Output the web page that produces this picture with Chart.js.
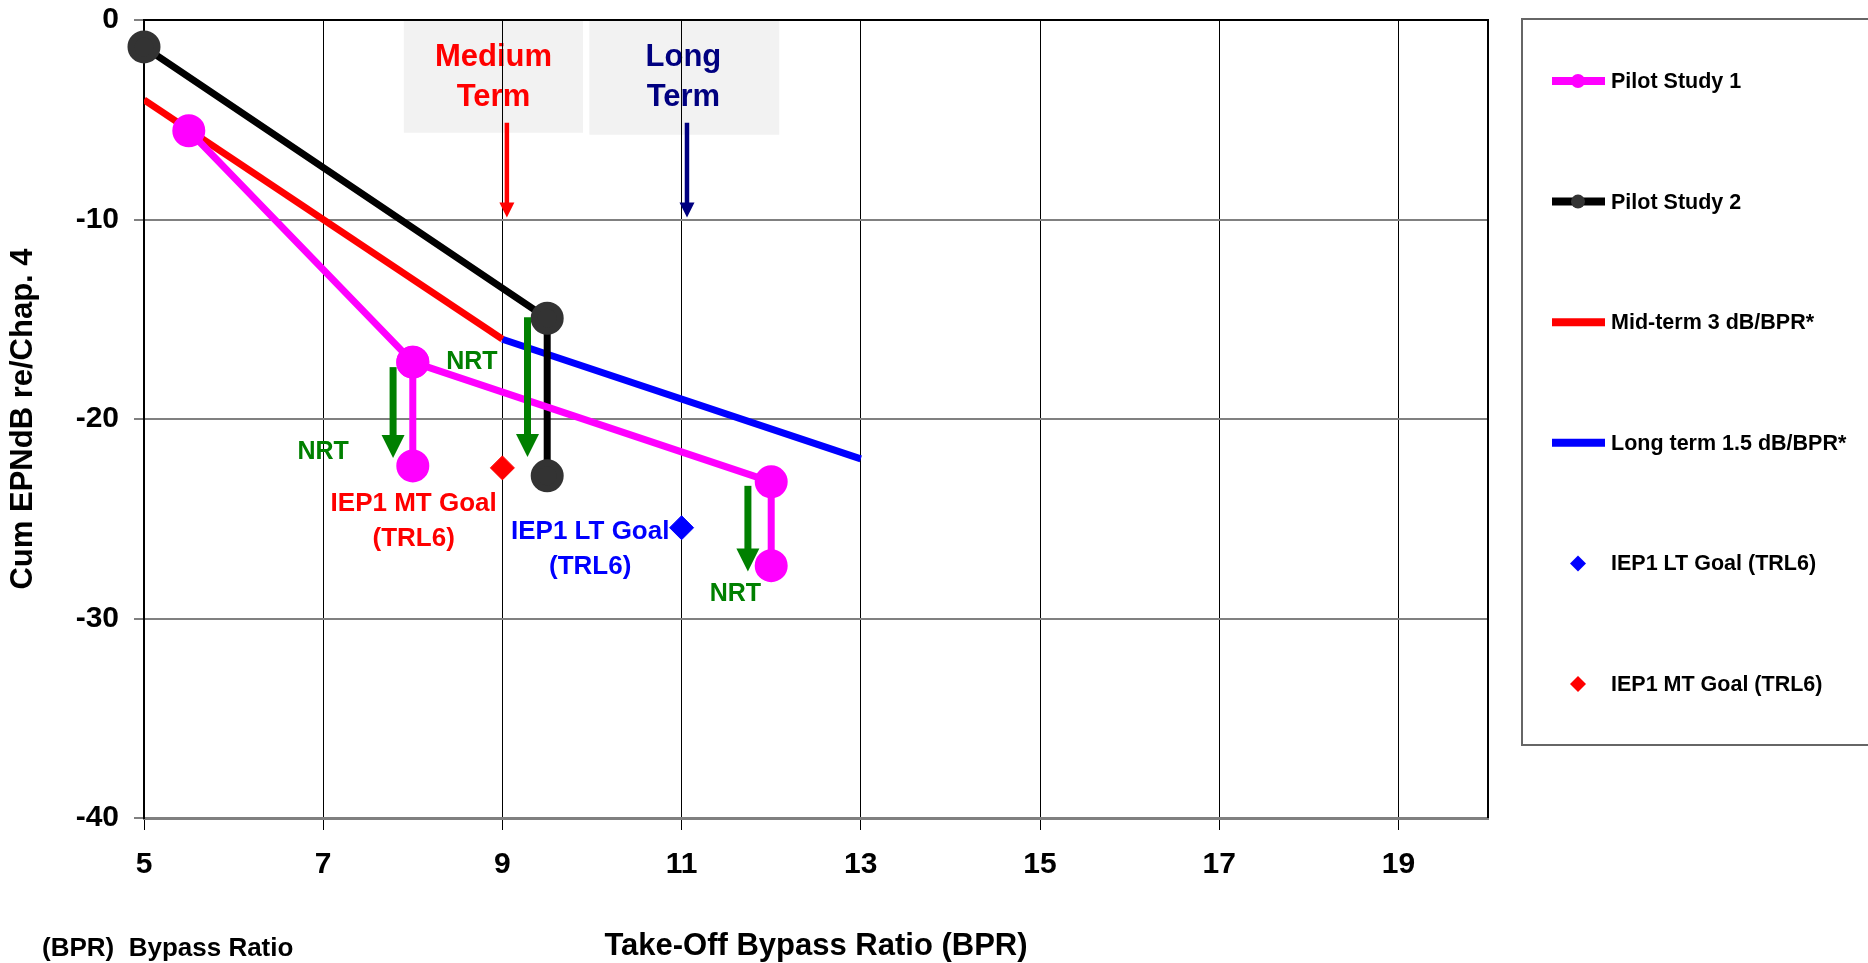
<!DOCTYPE html>
<html>
<head>
<meta charset="utf-8">
<script src="https://cdn.jsdelivr.net/npm/chart.js@4.4.0/dist/chart.umd.min.js"></script>
<style>
  html, body { margin:0; padding:0; background:#fff; }
  #wrap { position:relative; width:1868px; height:963px; }
</style>
</head>
<body>
<div id="wrap"><canvas id="mainChart"></canvas></div>
<script>
const FONT = "'Liberation Sans', Arial, sans-serif";

// series: x = take-off bypass ratio, y = cum EPNdB re Chap. 4 (null = gap in the line)
const pilot1X = [5.5, 8.0, 8.0, 8.0, 8.0, 12.0, 12.0];
const pilot1Y = [-5.55, -17.15, -22.35, null, -17.15, -23.15, -27.35];
const pilot2X = [5.0, 9.5, 9.5];
const pilot2Y = [-1.35, -14.95, -22.85];
const midTermX = [5, 9];
const midTermY = [-4, -16];
const longTermX = [9, 13];
const longTermY = [-16, -22];
const ltGoalX = [11.0];
const ltGoalY = [-25.45];
const mtGoalX = [9.0];
const mtGoalY = [-22.45];

const xTicks = [5, 7, 9, 11, 13, 15, 17, 19];

// callouts (data coordinates)
const termText = [['Medium', 'Term'], ['Long', 'Term']];
const termColor = ['#ff0000', '#000080'];
const termTextX = [8.90, 11.02];
const termTextY = [-1.88, -1.88];
const termBoxX0 = [7.90, 9.97];
const termBoxX1 = [9.90, 12.09];
const termBoxY0 = [-0.05, -0.05];
const termBoxY1 = [-5.65, -5.75];
const termArrowX = [9.05, 11.06];
const termArrowFrom = [-5.15, -5.15];
const termArrowTo = [-9.9, -9.9];

const nrtArrowX = [7.78, 9.28, 11.74];
const nrtArrowFrom = [-17.4, -14.9, -23.35];
const nrtArrowTo = [-21.95, -21.9, -27.65];
const nrtLabelX = [8.66, 7.0, 11.6];
const nrtLabelY = [-17.15, -21.65, -28.8];

const goalText = [['IEP1 MT Goal', '(TRL6)'], ['IEP1 LT Goal', '(TRL6)']];
const goalColor = ['#ff0000', '#0000ff'];
const goalX = [8.01, 9.98];
const goalY = [-24.25, -25.65];

const zip = (xs, ys) => xs.map((x, i) => ({x: x, y: ys[i]}));

function arrow(ctx, x, y0, y1, shaft, head, color) {
    ctx.save();
    ctx.strokeStyle = color; ctx.fillStyle = color; ctx.lineWidth = shaft;
    ctx.beginPath(); ctx.moveTo(x, y0); ctx.lineTo(x, y1 - head + 1); ctx.stroke();
    ctx.beginPath(); ctx.moveTo(x - head / 2, y1 - head); ctx.lineTo(x + head / 2, y1 - head); ctx.lineTo(x, y1); ctx.closePath(); ctx.fill();
    ctx.restore();
}
function diamond(ctx, x, y, r, color) {
    ctx.save(); ctx.fillStyle = color;
    ctx.beginPath(); ctx.moveTo(x, y - r); ctx.lineTo(x + r, y); ctx.lineTo(x, y + r); ctx.lineTo(x - r, y); ctx.closePath(); ctx.fill();
    ctx.restore();
}

const callouts = {
    id: 'callouts',
    beforeDraw: (chart) => {
        const ctx = chart.ctx, xs = chart.scales.x, ys = chart.scales.y;
        ctx.save();
        termText.forEach((lines, i) => {
            const x0 = xs.getPixelForValue(termBoxX0[i]), x1 = xs.getPixelForValue(termBoxX1[i]);
            const y0 = ys.getPixelForValue(termBoxY0[i]), y1 = ys.getPixelForValue(termBoxY1[i]);
            ctx.fillStyle = '#f2f2f2'; ctx.fillRect(x0, y0, x1 - x0, y1 - y0);
            ctx.fillStyle = termColor[i]; ctx.font = 'bold 31px ' + FONT;
            ctx.textAlign = 'center'; ctx.textBaseline = 'middle';
            lines.forEach((t, k) => ctx.fillText(t, xs.getPixelForValue(termTextX[i]), ys.getPixelForValue(termTextY[i]) + k * 40));
        });
        ctx.restore();
    },
    beforeDatasetsDraw: (chart) => {
        const ctx = chart.ctx, a = chart.chartArea;
        ctx.save(); ctx.strokeStyle = '#000'; ctx.lineWidth = 2;
        ctx.beginPath(); ctx.moveTo(a.left, a.top); ctx.lineTo(a.right, a.top); ctx.lineTo(a.right, a.bottom); ctx.stroke();
        ctx.restore();
    },
    afterDatasetsDraw: (chart) => {
        const ctx = chart.ctx, xs = chart.scales.x, ys = chart.scales.y;
        termArrowX.forEach((v, i) => arrow(ctx, xs.getPixelForValue(v), ys.getPixelForValue(termArrowFrom[i]), ys.getPixelForValue(termArrowTo[i]), 4.5, 15, termColor[i]));
        nrtArrowX.forEach((v, i) => arrow(ctx, xs.getPixelForValue(v), ys.getPixelForValue(nrtArrowFrom[i]), ys.getPixelForValue(nrtArrowTo[i]), 7, 23, '#008000'));
        ctx.save();
        ctx.textAlign = 'center'; ctx.textBaseline = 'middle';
        ctx.font = 'bold 25px ' + FONT; ctx.fillStyle = '#008000';
        nrtLabelX.forEach((v, i) => ctx.fillText('NRT', xs.getPixelForValue(v), ys.getPixelForValue(nrtLabelY[i])));
        ctx.font = 'bold 26px ' + FONT;
        goalText.forEach((lines, i) => {
            ctx.fillStyle = goalColor[i];
            lines.forEach((t, k) => ctx.fillText(t, xs.getPixelForValue(goalX[i]), ys.getPixelForValue(goalY[i]) + k * 35));
        });
        ctx.restore();
    },
    afterDraw: (chart) => {
        const ctx = chart.ctx;
        ctx.save();
        // legend box
        ctx.strokeStyle = '#666'; ctx.lineWidth = 2;
        ctx.strokeRect(1522, 19, 400, 726);
        ctx.font = 'bold 21.5px ' + FONT; ctx.textAlign = 'left'; ctx.textBaseline = 'middle';
        chart.data.datasets.forEach((ds, i) => {
            const y = 81 + i * 120.6;
            if (ds.showLine !== false) {
                ctx.strokeStyle = ds.borderColor; ctx.lineWidth = 8;
                ctx.beginPath(); ctx.moveTo(1552, y); ctx.lineTo(1605, y); ctx.stroke();
                if (ds.pointRadius > 0) {
                    ctx.fillStyle = ds.pointBackgroundColor;
                    ctx.beginPath(); ctx.arc(1578, y, 7, 0, Math.PI * 2); ctx.fill();
                }
            } else {
                diamond(ctx, 1578, y, 8, ds.pointBackgroundColor);
            }
            ctx.fillStyle = '#000';
            ctx.fillText(ds.label, 1611, y + 1);
        });
        ctx.font = 'bold 26px ' + FONT;
        ctx.fillText('(BPR)  Bypass Ratio', 42, 949);
        ctx.restore();
    }
};

new Chart(document.getElementById('mainChart'), {
    type: 'line',
    data: {
        datasets: [
            {label:'Pilot Study 1', data:zip(pilot1X, pilot1Y), borderColor:'#ff00ff', borderWidth:7, pointRadius:13, pointBackgroundColor:'#ff00ff', pointBorderColor:'#ff00ff', clip:false},
            {label:'Pilot Study 2', data:zip(pilot2X, pilot2Y), borderColor:'#000000', borderWidth:7, pointRadius:13, pointBackgroundColor:'#333333', pointBorderColor:'#333333', clip:false},
            {label:'Mid-term 3 dB/BPR*', data:zip(midTermX, midTermY), borderColor:'#ff0000', borderWidth:7, pointRadius:0},
            {label:'Long term 1.5 dB/BPR*', data:zip(longTermX, longTermY), borderColor:'#0000ff', borderWidth:7, pointRadius:0},
            {label:'IEP1 LT Goal (TRL6)', data:zip(ltGoalX, ltGoalY), showLine:false, pointStyle:'rectRot', pointRadius:12, pointBackgroundColor:'#0000ff', pointBorderColor:'#0000ff', borderColor:'#0000ff'},
            {label:'IEP1 MT Goal (TRL6)', data:zip(mtGoalX, mtGoalY), showLine:false, pointStyle:'rectRot', pointRadius:12, pointBackgroundColor:'#ff0000', pointBorderColor:'#ff0000', borderColor:'#ff0000'}
        ]
    },
    options: {
        responsive: true,
        maintainAspectRatio: false,
        animation: false,
        spanGaps: false,
        layout: { padding: { left:0, top:19, right:380, bottom:0 } },
        plugins: { legend: { display:false }, tooltip: { enabled:false } },
        scales: {
            x: {
                type: 'linear', min: 5, max: 20,
                afterBuildTicks: (s) => { s.ticks = xTicks.map(v => ({value: v})); },
                afterFit: (s) => { s.height = 145; s.paddingLeft = 0; s.paddingRight = 0; },
                grid: { color:'#000', lineWidth:1, tickLength:12 },
                border: { color:'#808080', width:3 },
                ticks: { color:'#000', font:{family:FONT, size:30, weight:'bold'}, padding:17, maxRotation:0, autoSkip:false },
                title: { display:true, text:'Take-Off Bypass Ratio (BPR)', color:'#000', font:{family:FONT, size:31, weight:'bold'}, padding:{top:0, bottom:-2} }
            },
            y: {
                type: 'linear', min: -40, max: 0,
                afterFit: (s) => { s.width = 144; s.paddingTop = 0; s.paddingBottom = 0; },
                grid: { color:'#808080', lineWidth:2, tickLength:10 },
                border: { color:'#000', width:2 },
                ticks: { stepSize:10, color:'#000', font:{family:FONT, size:30, weight:'bold'}, padding:15 },
                title: { display:true, text:'Cum EPNdB re/Chap. 4', color:'#000', font:{family:FONT, size:31, weight:'bold'}, padding:{top:5, bottom:0} }
            }
        }
    },
    plugins: [callouts]
});
</script>
</body>
</html>
